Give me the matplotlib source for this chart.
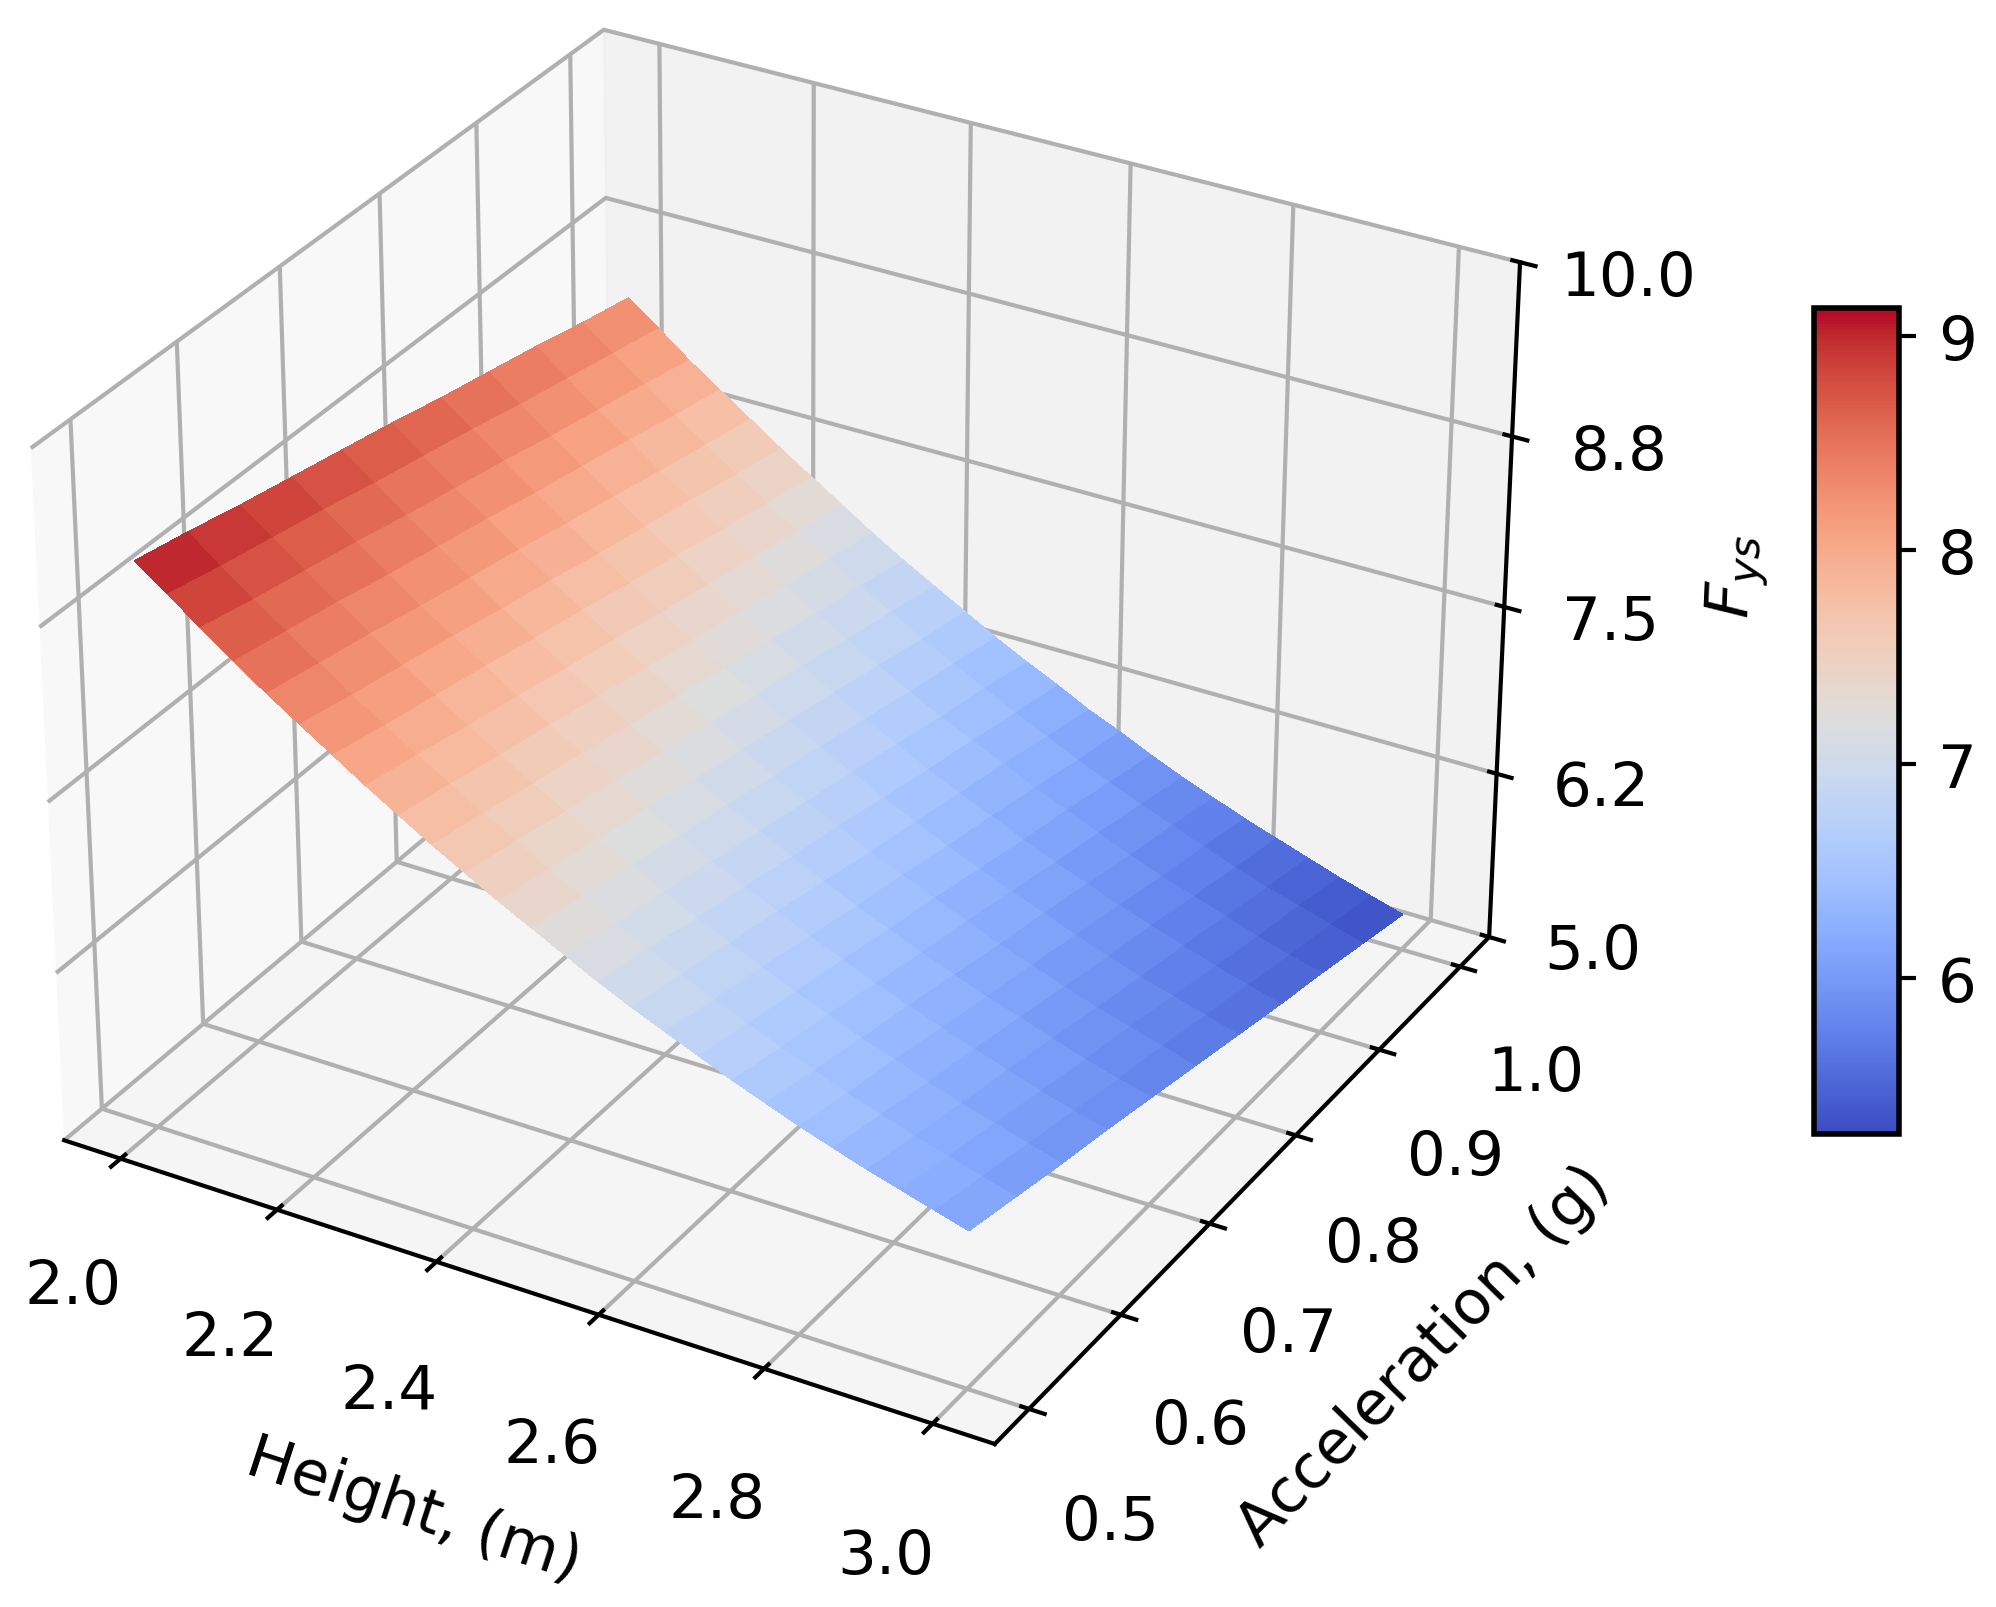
import matplotlib
matplotlib.use("Agg")
import matplotlib.pyplot as plt
import numpy as np

heights = [2.00, 2.04, 2.08, 2.12, 2.16, 2.20, 2.24, 2.28, 2.32, 2.36, 2.40, 2.44, 2.48,
           2.52, 2.56, 2.60, 2.64, 2.68, 2.72, 2.76, 2.80, 2.84, 2.88, 2.92, 2.96, 3.00]
accelerations = [0.50, 0.55, 0.60, 0.65, 0.70, 0.75, 0.80, 0.85, 0.90, 0.95, 1.00]
fys_a050 = [9.13, 8.96, 8.79, 8.62, 8.46, 8.31, 8.16, 8.01, 7.87, 7.73, 7.60, 7.47, 7.35, 7.23, 7.11, 7.00, 6.90, 6.80, 6.70, 6.61, 6.52, 6.44, 6.36, 6.29, 6.22, 6.15]
fys_a055 = [9.05, 8.87, 8.70, 8.54, 8.38, 8.22, 8.07, 7.93, 7.79, 7.65, 7.52, 7.39, 7.26, 7.14, 7.03, 6.92, 6.81, 6.71, 6.61, 6.52, 6.43, 6.35, 6.27, 6.20, 6.13, 6.06]
fys_a060 = [8.96, 8.79, 8.62, 8.46, 8.30, 8.14, 7.99, 7.84, 7.70, 7.56, 7.43, 7.30, 7.18, 7.06, 6.94, 6.83, 6.73, 6.62, 6.53, 6.43, 6.35, 6.26, 6.18, 6.11, 6.04, 5.97]
fys_a065 = [8.88, 8.71, 8.54, 8.37, 8.21, 8.06, 7.91, 7.76, 7.62, 7.48, 7.35, 7.22, 7.09, 6.97, 6.86, 6.75, 6.64, 6.54, 6.44, 6.35, 6.26, 6.18, 6.10, 6.02, 5.95, 5.89]
fys_a070 = [8.80, 8.62, 8.45, 8.29, 8.13, 7.97, 7.82, 7.67, 7.53, 7.39, 7.26, 7.13, 7.01, 6.89, 6.77, 6.66, 6.55, 6.45, 6.35, 6.26, 6.17, 6.09, 6.01, 5.93, 5.86, 5.80]
fys_a075 = [8.72, 8.54, 8.37, 8.21, 8.05, 7.89, 7.74, 7.59, 7.45, 7.31, 7.18, 7.05, 6.92, 6.80, 6.69, 6.57, 6.47, 6.37, 6.27, 6.17, 6.09, 6.00, 5.92, 5.85, 5.78, 5.71]
fys_a080 = [8.63, 8.46, 8.29, 8.12, 7.96, 7.80, 7.65, 7.50, 7.36, 7.22, 7.09, 6.96, 6.84, 6.72, 6.60, 6.49, 6.38, 6.28, 6.18, 6.09, 6.00, 5.91, 5.83, 5.76, 5.69, 5.62]
fys_a085 = [8.55, 8.37, 8.20, 8.04, 7.88, 7.72, 7.57, 7.42, 7.28, 7.14, 7.01, 6.88, 6.75, 6.63, 6.51, 6.40, 6.30, 6.19, 6.09, 6.00, 5.91, 5.83, 5.75, 5.67, 5.60, 5.53]
fys_a090 = [8.47, 8.29, 8.12, 7.96, 7.79, 7.64, 7.48, 7.34, 7.19, 7.05, 6.92, 6.79, 6.66, 6.54, 6.43, 6.32, 6.21, 6.11, 6.01, 5.91, 5.82, 5.74, 5.66, 5.58, 5.51, 5.45]
fys_a095 = [8.38, 8.21, 8.04, 7.87, 7.71, 7.55, 7.40, 7.25, 7.11, 6.97, 6.84, 6.70, 6.58, 6.46, 6.34, 6.23, 6.12, 6.02, 5.92, 5.83, 5.74, 5.65, 5.57, 5.50, 5.43, 5.36]
fys_a100 = [8.30, 8.13, 7.95, 7.79, 7.63, 7.47, 7.32, 7.17, 7.02, 6.88, 6.75, 6.62, 6.49, 6.37, 6.26, 6.14, 6.04, 5.93, 5.83, 5.74, 5.65, 5.57, 5.49, 5.41, 5.34, 5.27]
x_ticks = [2.0, 2.2, 2.4, 2.6, 2.8, 3.0]
y_ticks = [0.5, 0.6, 0.7, 0.8, 0.9, 1.0]
z_ticks = [5.0, 6.25, 7.5, 8.75, 10.0]
z_tick_labels = ["5.0", "6.2", "7.5", "8.8", "10.0"]
cbar_ticks = [6, 7, 8, 9]

plt.rcParams.update({"font.family": "DejaVu Sans", "axes.linewidth": 1.5, "grid.linewidth": 1.5,
                     "xtick.major.width": 1.5, "ytick.major.width": 1.5})

fig = plt.figure(figsize=(9.98, 8.04), dpi=200)
w = 0.829
ax = fig.add_axes([-0.030, 0.034, w, w * 9.98 / 8.04], projection="3d")
ax.set_box_aspect((4, 4, 2.96), zoom=0.998)
X, Y = np.meshgrid(heights, accelerations)
Z = np.array([fys_a050, fys_a055, fys_a060, fys_a065, fys_a070, fys_a075,
              fys_a080, fys_a085, fys_a090, fys_a095, fys_a100])
surf = ax.plot_surface(X, Y, Z, cmap="coolwarm", linewidth=0, antialiased=False,
                       rstride=1, cstride=1, vmin=Z.min(), vmax=Z.max())
ax.set_zlim(5, 10)
ax.set_xticks(x_ticks)
ax.set_yticks(y_ticks)
ax.set_zticks(z_ticks)
ax.set_zticklabels(z_tick_labels)
ax.tick_params(axis="both", labelsize=22)
ax.tick_params(axis="x", pad=18)
ax.tick_params(axis="y", pad=18)
ax.tick_params(axis="z", pad=15.5)
ax.set_xlabel("Height, (m)", fontsize=22, labelpad=36)
ax.set_ylabel("Acceleration, (g)", fontsize=22, labelpad=36)
ax.set_zlabel("$F_{ys}$", fontsize=22, labelpad=31)

cax = fig.add_axes([0.909, 0.294, 0.0425, 0.514])
cb = fig.colorbar(surf, cax=cax)
cb.set_ticks(cbar_ticks)
cb.ax.tick_params(labelsize=22, width=1.5, length=6, pad=8)
cb.outline.set_linewidth(2)
fig.savefig("out.png", dpi=200)
